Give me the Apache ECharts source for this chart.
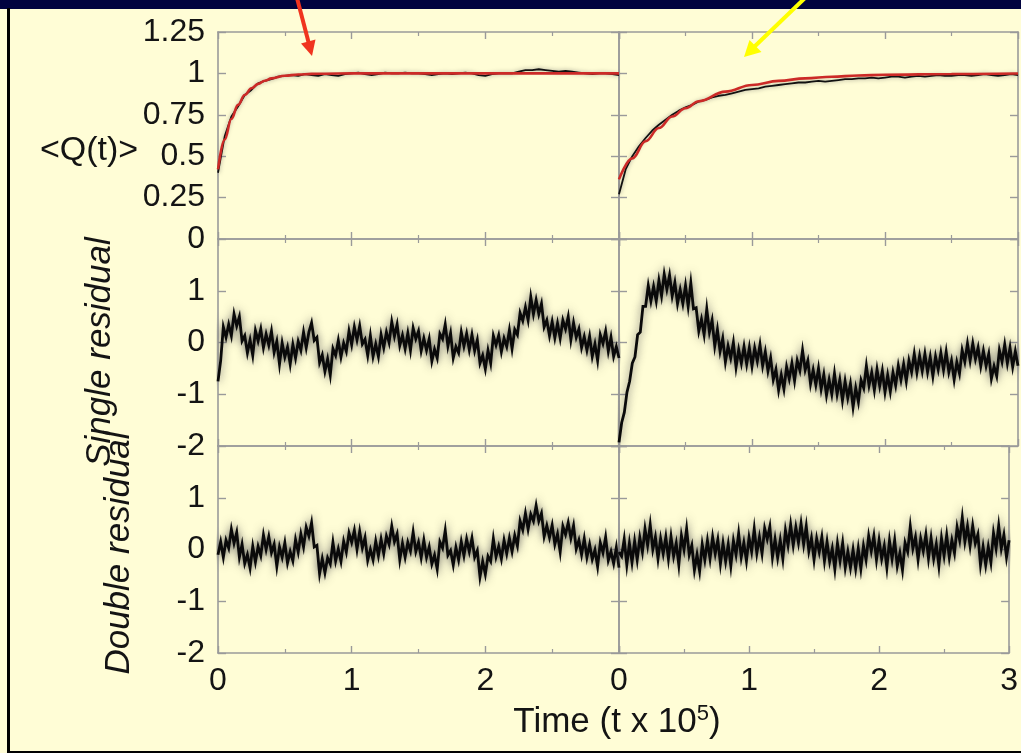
<!DOCTYPE html>
<html><head><meta charset="utf-8">
<script src="https://cdn.jsdelivr.net/npm/echarts@6/dist/echarts.min.js"></script>
<style>html,body{margin:0;padding:0;background:#fffdd6;}#c{width:1021px;height:753px;}</style>
</head><body><div id="c"></div><script>
// ---- data (time in units of 10^5) ----
const topTimeStep = 0.05;        // sample spacing of the <Q(t)> traces
const residualTimeStep = 0.02;   // sample spacing of the residual traces

const qLeft = [0.40,0.62,0.74,0.80,0.87,0.90,0.94,0.955,0.965,0.98,
 0.985,0.99,0.985,0.995,0.99,0.985,0.995,0.99,0.985,0.995,
 1.0,1.005,0.995,0.99,0.995,1.005,1.0,1.0,1.005,1.0,
 1.0,0.995,0.99,0.995,1.0,0.995,1.0,1.005,1.0,0.99,
 0.985,0.995,1.0,1.0,1.0,1.01,1.02,1.02,1.025,1.02,
 1.015,1.01,1.015,1.01,1.005,1.0,0.995,1.0,1.0,0.995,
 0.99];
const qRight = [0.27,0.42,0.50,0.56,0.61,0.655,0.69,0.72,0.75,0.775,
 0.795,0.81,0.83,0.84,0.855,0.865,0.87,0.88,0.89,0.90,
 0.905,0.91,0.92,0.925,0.93,0.935,0.94,0.945,0.945,0.95,
 0.955,0.95,0.955,0.96,0.965,0.965,0.97,0.97,0.975,0.97,
 0.975,0.98,0.98,0.975,0.98,0.985,0.98,0.985,0.99,0.985,
 0.985,0.99,0.99,0.985,0.99,0.995,0.99,0.985,0.99,0.995,
 0.99];

const fitLeftT = [0,0.05,0.1,0.15,0.2,0.25,0.3,0.35,0.4,0.5,0.6,0.7,0.8,1.0,1.5,2.0,2.5,3.0];
const fitLeftV = [0.42,0.60,0.725,0.81,0.87,0.91,0.937,0.956,0.970,0.986,0.993,0.997,0.998,1.0,1.0,1.0,1.0,1.0];
const fitRightT = [0,0.1,0.2,0.3,0.4,0.5,0.6,0.8,1.0,1.2,1.4,1.6,1.8,2.0,2.5,3.0];
const fitRightV = [0.36,0.487,0.59,0.67,0.74,0.79,0.832,0.89,0.93,0.955,0.97,0.98,0.987,0.992,0.996,0.999];

const singleLeft = [-0.75,-0.35,0.30,0.10,0.35,0.13,0.55,0.32,0.50,0.03,
 0.13,-0.20,0.05,-0.25,0.23,0.03,0.26,-0.10,0.16,-0.05,
 0.22,-0.19,0.02,-0.42,-0.01,-0.28,-0.09,-0.42,-0.04,-0.30,
 0.02,-0.15,0.20,-0.10,0.20,0.38,0.04,0.10,-0.39,-0.24,
 -0.56,-0.32,-0.63,-0.12,-0.25,0.04,-0.28,-0.01,-0.17,0.22,
 -0.04,0.30,0.05,0.32,-0.03,0.06,-0.25,0.13,-0.27,-0.03,
 -0.27,0.15,-0.10,0.20,0.00,0.40,0.12,0.35,-0.06,0.14,
 -0.12,0.18,-0.15,0.28,0.07,0.22,-0.16,0.08,-0.15,0.07,
 -0.36,-0.13,-0.30,0.17,0.07,0.35,-0.07,0.18,-0.30,-0.08,
 -0.20,0.20,-0.07,0.17,-0.14,0.15,-0.16,0.05,-0.40,-0.25,
 -0.51,-0.15,-0.40,0.13,-0.05,0.14,-0.18,0.08,-0.08,0.24,
 -0.12,0.25,0.15,0.57,0.42,0.68,0.43,0.88,0.55,0.82,
 0.55,0.75,0.30,0.43,0.13,0.40,0.09,0.37,0.08,0.43,
 0.26,0.50,0.05,0.38,0.10,0.26,-0.10,0.11,-0.15,0.12,
 -0.27,-0.03,-0.35,0.15,-0.02,0.22,-0.17,0.10,-0.27,-0.08,
 -0.30];
const singleRight = [-1.93,-1.55,-1.35,-0.96,-0.75,-0.40,-0.28,0.15,0.20,0.70,
 0.70,1.10,0.80,1.08,0.80,1.20,0.90,1.32,1.03,1.30,
 0.90,1.16,0.75,1.02,0.75,1.10,0.70,1.15,0.65,0.67,
 0.22,0.45,0.15,0.65,0.20,0.43,-0.07,0.25,-0.17,0.08,
 -0.38,-0.07,-0.30,0.00,-0.48,-0.14,-0.40,-0.08,-0.42,-0.10,
 -0.46,-0.11,-0.36,-0.04,-0.45,-0.18,-0.55,-0.30,-0.72,-0.52,
 -0.92,-0.63,-0.90,-0.47,-0.70,-0.40,-0.74,-0.35,-0.54,-0.15,
 -0.53,-0.35,-0.80,-0.53,-0.82,-0.50,-0.90,-0.62,-1.02,-0.72,
 -1.00,-0.60,-1.00,-0.72,-1.12,-0.75,-1.07,-0.80,-1.25,-0.88,
 -1.15,-0.73,-0.88,-0.45,-0.83,-0.58,-0.92,-0.52,-0.84,-0.55,
 -0.96,-0.63,-0.95,-0.58,-0.83,-0.45,-0.72,-0.42,-0.75,-0.35,
 -0.57,-0.22,-0.58,-0.26,-0.55,-0.22,-0.57,-0.28,-0.65,-0.27,
 -0.52,-0.20,-0.53,-0.18,-0.57,-0.35,-0.72,-0.38,-0.60,-0.15,
 -0.37,-0.02,-0.35,-0.02,-0.32,-0.10,-0.46,-0.16,-0.45,-0.22,
 -0.70,-0.46,-0.65,-0.15,-0.37,-0.04,-0.40,-0.10,-0.47,-0.17,
 -0.45];
const doubleLeft = [-0.10,0.15,-0.15,0.18,0.03,0.39,0.12,0.33,-0.15,0.10,
 -0.27,-0.10,-0.36,0.06,-0.24,0.06,-0.12,0.28,0.00,0.25,
 -0.06,0.10,-0.33,0.05,-0.15,0.13,-0.26,-0.04,-0.22,0.19,
 -0.05,0.30,0.05,0.43,0.26,0.52,0.05,0.08,-0.47,-0.18,
 -0.45,-0.16,-0.28,0.14,-0.22,0.01,-0.23,0.16,-0.05,0.32,
 0.14,0.37,0.00,0.35,0.03,0.23,-0.21,0.00,-0.20,0.16,
 -0.12,0.20,-0.08,0.26,0.10,0.45,0.15,0.30,-0.20,0.12,
 -0.15,0.14,-0.03,0.34,-0.04,0.14,-0.16,0.18,-0.15,0.05,
 -0.28,-0.11,-0.38,0.15,0.03,0.37,-0.11,-0.02,-0.30,0.04,
 -0.20,0.15,-0.12,0.20,-0.04,0.22,-0.15,-0.02,-0.53,-0.23,
 -0.48,-0.13,-0.23,0.21,-0.14,0.06,-0.18,0.18,-0.08,0.22,
 -0.04,0.27,0.07,0.55,0.38,0.70,0.39,0.68,0.55,0.85,
 0.55,0.70,0.25,0.46,0.23,0.47,0.10,0.30,-0.05,0.45,
 0.29,0.52,0.22,0.46,0.01,0.18,-0.10,0.21,-0.15,0.10,
 -0.19,-0.01,-0.33,0.13,-0.06,0.24,-0.21,-0.04,-0.27,0.04,
 -0.35];
const doubleRight = [-0.05,-0.13,0.20,-0.30,0.12,-0.25,0.16,-0.20,0.23,-0.05,
 0.40,0.08,0.48,0.00,0.24,-0.18,0.21,-0.08,0.24,-0.18,
 0.25,-0.13,0.12,-0.30,0.27,0.00,0.40,-0.10,0.08,-0.40,
 -0.10,-0.42,0.10,-0.20,0.17,-0.18,0.24,-0.08,0.19,-0.28,
 0.12,-0.23,0.10,-0.32,0.17,-0.10,0.31,-0.15,0.13,-0.22,
 0.23,-0.04,0.40,-0.07,0.24,-0.08,0.41,0.20,0.44,-0.15,
 0.20,-0.16,0.18,-0.18,0.37,0.08,0.48,0.08,0.43,0.13,
 0.50,0.10,0.45,-0.03,0.22,-0.20,0.21,-0.05,0.24,-0.22,
 0.15,-0.23,0.02,-0.38,0.12,-0.22,0.13,-0.35,-0.04,-0.35,
 0.00,-0.37,0.02,-0.37,0.07,-0.20,0.26,-0.03,0.26,-0.20,
 0.18,-0.18,0.07,-0.35,0.17,-0.18,0.18,-0.32,-0.07,-0.40,
 0.13,-0.04,0.45,0.02,0.24,-0.20,0.21,-0.03,0.29,-0.17,
 0.22,-0.18,0.10,-0.32,0.22,-0.12,0.28,-0.15,0.18,-0.07,
 0.43,0.18,0.62,0.15,0.45,0.07,0.46,0.12,0.29,-0.30,
 0.05,-0.30,0.05,-0.25,0.32,0.02,0.46,0.02,0.28,-0.15,
 0.18];

const xTickLabels = ['0','1','2','3'];
const rowTitles = ['<Q(t)>', 'Single residual', 'Double residual'];
const xTitle = 'Time (t x 10', xTitleSup = '5';

// ---- layout / style ----
const FONT = '"Liberation Sans", Arial, Helvetica, sans-serif';
const AXC = '#9a9a9a';
const TXT = '#141414';
const colLeft = [218, 619], colWidth = [401, 399];
const rowTop = [32, 239, 446], rowH = 207;
const yRanges = [{min:0,max:1.25,interval:0.25},{min:-2,max:2,interval:1},{min:-2,max:2,interval:1}];

function sampled(vals, step){ return vals.map((v,i)=>[+(i*step).toFixed(3), v]); }
function paired(ts, vs){ return ts.map((t,i)=>[t, vs[i]]); }

const grids=[], xAxes=[], yAxes=[], xAxesTop=[], yAxesRight=[], series=[];
const axisLine = {show:true, onZero:false, lineStyle:{color:AXC, width:1.6}};
for (let r=0;r<3;r++) for (let c=0;c<2;c++){
  const g = r*2+c;
  grids.push({left:colLeft[c], top:rowTop[r], width:colWidth[c], height:rowH, containLabel:false});
  xAxes.push({type:'value', gridIndex:g, position:'bottom', min:0, max:3, interval:1,
    axisLine, splitLine:{show:false},
    axisTick:{show:true, inside:true, length:7, lineStyle:{color:AXC, width:1.4}},
    minorTick:{show:true, splitNumber:2, length:4, lineStyle:{color:AXC, width:1.2}},
    axisLabel:{show:r===2, showMaxLabel:c===1, margin:12, fontSize:32, color:TXT, fontFamily:FONT,
      formatter:v=>xTickLabels[Math.round(v)]}});
  xAxesTop.push({type:'value', gridIndex:g, position:'top', min:0, max:3, interval:1,
    axisLine, splitLine:{show:false}, axisLabel:{show:false},
    axisTick:{show:true, inside:true, length:7, lineStyle:{color:AXC, width:1.4}},
    minorTick:{show:true, splitNumber:2, length:4, lineStyle:{color:AXC, width:1.2}}});
  const yr = yRanges[r];
  yAxes.push({type:'value', gridIndex:g, position:'left', min:yr.min, max:yr.max, interval:yr.interval,
    axisLine, splitLine:{show:false},
    axisTick:{show:true, inside:true, length:8, lineStyle:{color:AXC, width:1.4}},
    axisLabel:{show:c===0, showMaxLabel:r===0, margin:13, fontSize:32, color:TXT, fontFamily:FONT}});
  yAxesRight.push({type:'value', gridIndex:g, position:'right', min:yr.min, max:yr.max, interval:yr.interval,
    axisLine, splitLine:{show:false}, axisLabel:{show:false},
    axisTick:{show:true, inside:true, length:8, lineStyle:{color:AXC, width:1.4}}});
}

const noisy = {color:'#0a0a0a', width:2.8, join:'miter', shadowColor:'rgba(85,85,85,0.9)', shadowBlur:8};
function line(g, data, style, extra){
  return Object.assign({type:'line', xAxisIndex:g, yAxisIndex:g, data, showSymbol:false, symbol:'none',
    animation:false, silent:true, lineStyle:style}, extra||{});
}
series.push(line(0, sampled(qLeft, topTimeStep), {color:'#111', width:1.8, shadowColor:'rgba(80,80,80,0.6)', shadowBlur:4}));
series.push(line(0, paired(fitLeftT, fitLeftV), {color:'#cc2a27', width:2.6}, {smooth:0.4, smoothMonotone:'x'}));
series.push(line(1, sampled(qRight, topTimeStep), {color:'#111', width:1.8, shadowColor:'rgba(80,80,80,0.6)', shadowBlur:4}));
series.push(line(1, paired(fitRightT, fitRightV), {color:'#cc2a27', width:2.6}, {smooth:0.4, smoothMonotone:'x'}));
series.push(line(2, sampled(singleLeft, residualTimeStep), noisy));
series.push(line(3, sampled(singleRight, residualTimeStep), noisy));
series.push(line(4, sampled(doubleLeft, residualTimeStep), noisy));
series.push(line(5, sampled(doubleRight, residualTimeStep), noisy));

const graphic = [
  {type:'rect', shape:{x:0,y:0,width:1021,height:9}, style:{fill:'#01033f'}, z:100},
  {type:'rect', shape:{x:7,y:8,width:3,height:745}, style:{fill:'#000'}, z:100},
  {type:'rect', shape:{x:7,y:751,width:1014,height:2}, style:{fill:'#000'}, z:100},
  {type:'line', shape:{x1:297,y1:-2,x2:309,y2:44}, style:{stroke:'#f0341f', lineWidth:4}, z:101},
  {type:'polygon', shape:{points:[[312,56],[315.5,39.5],[301,43.5]]}, style:{fill:'#f0341f'}, z:101},
  {type:'line', shape:{x1:805,y1:-2,x2:753,y2:48}, style:{stroke:'#ffff00', lineWidth:4}, z:101},
  {type:'polygon', shape:{points:[[744,57],[761.5,52],[749.5,40]]}, style:{fill:'#ffff00'}, z:101},
  {type:'text', x:89, y:151, z:50, style:{text:rowTitles[0], align:'center', verticalAlign:'middle', fontSize:34, fontFamily:FONT, fill:TXT}},
  {type:'text', x:100, y:352, rotation:Math.PI/2, z:50, style:{text:rowTitles[1], align:'center', verticalAlign:'middle', fontSize:35, fontStyle:'italic', fontFamily:FONT, fill:TXT}},
  {type:'text', x:119, y:553, rotation:Math.PI/2, z:50, style:{text:rowTitles[2], align:'center', verticalAlign:'middle', fontSize:35, fontStyle:'italic', fontFamily:FONT, fill:TXT}},
  {type:'text', x:617, y:722, z:50, style:{text:'{a|'+xTitle+'}{s|'+xTitleSup+'}{a|)}', align:'center', verticalAlign:'middle',
     fontSize:35, fontFamily:FONT, fill:TXT,
     rich:{a:{fontSize:35, fontFamily:FONT, fill:TXT, color:TXT, lineHeight:38},
           s:{fontSize:22, fontFamily:FONT, fill:TXT, color:TXT, verticalAlign:'top', lineHeight:38}}}}
];

const chart = echarts.init(document.getElementById('c'), null, {renderer:'canvas'});
chart.setOption({
  backgroundColor:'#fffdd6', animation:false,
  grid:grids, xAxis:xAxes.concat(xAxesTop), yAxis:yAxes.concat(yAxesRight),
  series, graphic
});
</script></body></html>
